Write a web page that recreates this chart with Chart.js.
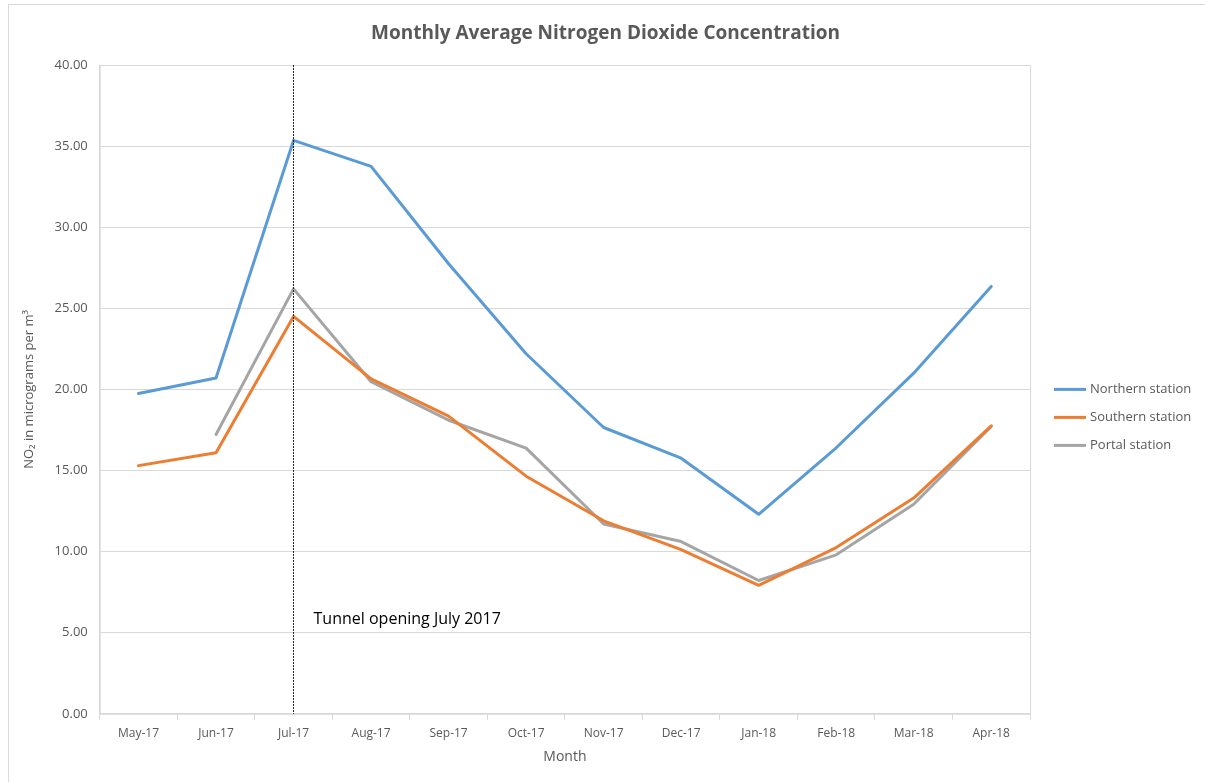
<!DOCTYPE html>
<html>
<head>
<meta charset="utf-8">
<script src="https://cdn.jsdelivr.net/npm/chart.js@4"></script>
<style>
  body { margin: 0; background: #fff; }
  #frame { position: absolute; left: 8px; top: 4px; width: 1210px; height: 790px; border: 1px solid #d9d9d9; }
  #wrap { position: absolute; left: 0; top: 0; width: 1205px; height: 782px; }
</style>
</head>
<body>
<div id="frame"></div>
<div id="wrap"><canvas id="no2Chart" width="1205" height="782"></canvas></div>
<script>
// Data
const months = ['May-17', 'Jun-17', 'Jul-17', 'Aug-17', 'Sep-17', 'Oct-17', 'Nov-17', 'Dec-17', 'Jan-18', 'Feb-18', 'Mar-18', 'Apr-18'];
const northern = [19.75, 20.7, 35.35, 33.75, 27.75, 22.2, 17.65, 15.76, 12.3, 16.4, 21.0, 26.35];
const southern = [15.3, 16.1, 24.5, 20.65, 18.35, 14.65, 11.9, 10.12, 7.92, 10.25, 13.3, 17.75];
const portal = [null, 17.22, 26.2, 20.47, 18.1, 16.38, 11.7, 10.62, 8.22, 9.8, 12.92, 17.72];
const yTicks = [0, 5, 10, 15, 20, 25, 30, 35, 40];

const chartTitle = 'Monthly Average Nitrogen Dioxide Concentration';
const tunnelMonth = 'Jul-17';
const tunnelLabel = 'Tunnel opening July 2017';

const textColor = '#595959';
const gridColor = '#d9d9d9';
const font = '"Open Sans", sans-serif';

// Title centred on the whole chart (Excel style), not just the plot + legend gap
const titlePlugin = {
    id: 'centreTitle',
    afterDraw(chart) {
        const ctx = chart.ctx;
        ctx.save();
        ctx.font = 'bold 19px ' + font;
        ctx.fillStyle = textColor;
        ctx.textAlign = 'center';
        ctx.textBaseline = 'middle';
        ctx.fillText(chartTitle, chart.width / 2 + 3, 34);
        ctx.restore();
    }
};

// Plot area border, tunnel marker line and its note
const markerPlugin = {
    id: 'marker',
    afterDraw(chart) {
        const ctx = chart.ctx;
        const area = chart.chartArea;
        const x = chart.scales.x.getPixelForValue(months.indexOf(tunnelMonth));
        const y = chart.scales.y;

        ctx.save();
        ctx.strokeStyle = gridColor;
        ctx.lineWidth = 1;
        ctx.strokeRect(area.left + 0.5, area.top + 0.5, area.right - area.left, area.bottom - area.top);

        ctx.strokeStyle = '#262626';
        ctx.setLineDash([2, 1]);
        ctx.beginPath();
        ctx.moveTo(Math.round(x) - 0.5, area.top);
        ctx.lineTo(Math.round(x) - 0.5, area.bottom);
        ctx.stroke();
        ctx.setLineDash([]);

        ctx.fillStyle = '#000';
        ctx.font = '16px ' + font;
        ctx.textBaseline = 'middle';
        ctx.fillText(tunnelLabel, x + 20, y.getPixelForValue(5.8));
        ctx.restore();
    }
};

// Legend on the right, drawn from the dataset labels and colours
const legendPlugin = {
    id: 'sideLegend',
    afterDraw(chart) {
        const ctx = chart.ctx;
        const area = chart.chartArea;
        const sets = chart.data.datasets;
        const left = area.right + 24;
        const gap = 28;
        const top = (area.top + area.bottom) / 2 + 28 - gap * (sets.length - 1) / 2;

        ctx.save();
        ctx.font = '13px ' + font;
        ctx.textBaseline = 'middle';
        sets.forEach((ds, i) => {
            const yy = top + i * gap;
            ctx.strokeStyle = ds.borderColor;
            ctx.lineWidth = 3;
            ctx.beginPath();
            ctx.moveTo(left, yy);
            ctx.lineTo(left + 32, yy);
            ctx.stroke();
            ctx.fillStyle = textColor;
            ctx.fillText(ds.label, left + 36, yy);
        });
        ctx.restore();
    }
};

const ctx = document.getElementById('no2Chart').getContext('2d');
new Chart(ctx, {
    type: 'line',
    data: {
        labels: months,
        datasets: [{
            label: 'Northern station',
            data: northern,
            borderColor: '#5B9BD5',
            backgroundColor: '#5B9BD5'
        }, {
            label: 'Southern station',
            data: southern,
            borderColor: '#ED7D31',
            backgroundColor: '#ED7D31'
        }, {
            label: 'Portal station',
            data: portal,
            borderColor: '#A5A5A5',
            backgroundColor: '#A5A5A5'
        }]
    },
    options: {
        responsive: false,
        animation: false,
        devicePixelRatio: 1,
        elements: {
            line: { borderWidth: 3, tension: 0, borderCapStyle: 'round', borderJoinStyle: 'round' },
            point: { radius: 0, hoverRadius: 0 }
        },
        layout: { padding: { left: 17, right: 175, top: 65, bottom: 13 } },
        plugins: {
            title: { display: false },
            legend: { display: false },
            tooltip: { enabled: false }
        },
        scales: {
            x: {
                offset: true,
                grid: { display: true, drawOnChartArea: false, drawTicks: true, tickLength: 6, offset: true, color: gridColor },
                border: { color: gridColor },
                ticks: { color: textColor, padding: 7, font: { family: font, size: 12 }, maxRotation: 0 },
                title: { display: true, text: 'Month', color: textColor, font: { family: font, size: 14 }, padding: { top: 0 } }
            },
            y: {
                min: 0,
                max: 40,
                afterBuildTicks: axis => { axis.ticks = yTicks.map(v => ({ value: v })); },
                grid: { color: gridColor, drawTicks: false },
                border: { color: gridColor },
                ticks: {
                    color: textColor,
                    padding: 12,
                    font: { family: font, size: 13 },
                    callback: v => v.toFixed(2)
                },
                title: { display: true, text: 'NO₂ in micrograms per m³', color: textColor, font: { family: font, size: 13 }, padding: { bottom: 6 } }
            }
        }
    },
    plugins: [titlePlugin, markerPlugin, legendPlugin]
});
</script>
</body>
</html>
